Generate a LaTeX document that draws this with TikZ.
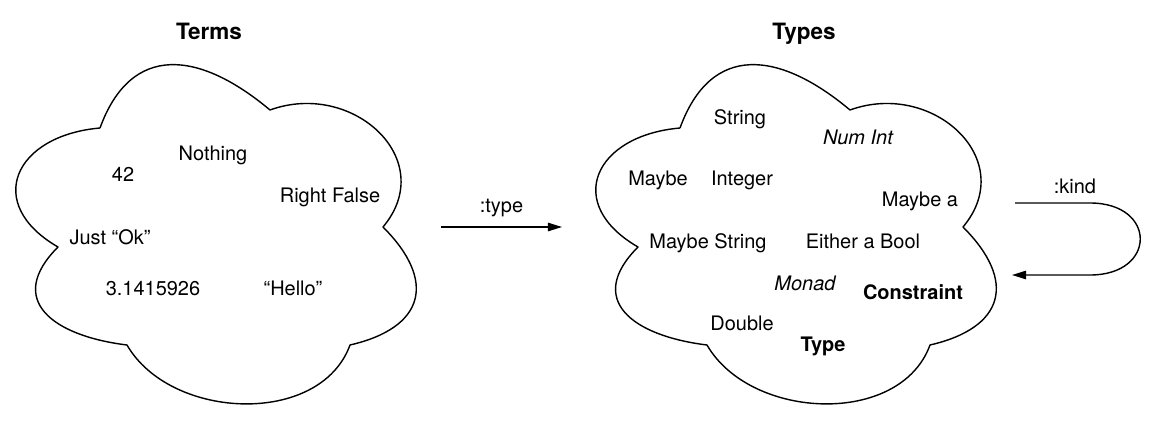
\documentclass[tikz,border=0pt]{standalone}
\usepackage{fontspec}
\setmainfont{TeX Gyre Heros}
\usetikzlibrary{positioning, calc, arrows.meta}
\tikzstyle{arrow}=[line width=1pt, draw=black, -{Triangle[length=10pt, width=6pt]}]
\tikzstyle{value}=[font=\fontsize{14.2}{16}\selectfont, text height=10pt, text depth=0pt, inner sep=0pt]
\tikzstyle{title}=[value, font=\fontsize{16}{18}\selectfont\bfseries]
\tikzset{
    cloud outline/.pic={
        \draw[line width=1pt, line join=round]
            (100,295) to[out=70, in=140, looseness=1.37] (270,313)
            to[out=20, in=50, looseness=1.38] (383,196)
            to[out=-45, in=13, looseness=1.6] (350,78)
            to[out=-110, in=-60, looseness=1] (127,78)
            to[out=173, in=225, looseness=1.6] (58,176)
            to[out=150, in=185, looseness=1.75] (100,295);
    }
}

\begin{document}
\begin{tikzpicture}[x=0.025cm, y=0.025cm]
        \useasboundingbox (0,0) rectangle (1164,423);

        % Draw the clouds
        \pic at (0,0) {cloud outline};
        \pic at (580,0) {cloud outline};

        \node[title] (terms) at (209,391) {Terms};
        \node[title] (types) at (804,391) {Types};

        % Terms
        \node[value] (nothing) at (213,270) {Nothing};
        \node[value] (forty two) at (123,249) {42};
        \node[value] (right false) at (330,228) {Right False};
        \node[value] (just ok) at (110,186) {Just “Ok”};
        \node[value] (pi) at (153,135) {3.1415926};
        \node[value] (hello) at (293,135) {“Hello”};

        % Types
        \node[value] (string) at (740,306) {String};
        \node[value] (num int) at (858,286) {\itshape Num Int};
        \node[value] (maybe) at (658,245) {Maybe};
        \node[value] (integer) at (742,245) {Integer};
        \node[value] (maybe a) at (920,224) {Maybe a};
        \node[value] (maybe string) at (708,182) {Maybe String};
        \node[value] (either) at (863,182) {Either a Bool};
        \node[value] (monad) at (805,140) {\itshape Monad};
        \node[value] (constraint) at (913,131) {\bfseries Constraint};
        \node[value] (double) at (742,100) {Double};
        \node[value] (type) at (823,79) {\bfseries Type};

        % Arrows
        \coordinate (in type) at (441,196);
        \coordinate (out type) at (562,196);
        \draw[arrow] (in type) -- (out type) node[value, midway, above=10pt] (type label) {:type};

        \coordinate (in kind) at (1015,220);
        \coordinate (out kind) at (1012,148);
        \draw[arrow] (in kind) -- ++(75,0) .. controls +(67,0) and +(67,0) .. ++(0,-72) -- (out kind);
        \node[value] (kind label) at (1075,237) {:kind};
\end{tikzpicture}
\end{document}
